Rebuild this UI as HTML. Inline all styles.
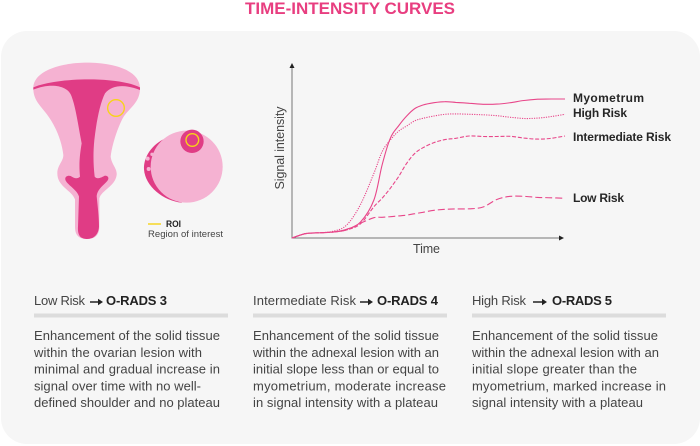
<!DOCTYPE html>
<html lang="en">
<head>
<meta charset="utf-8">
<title>Time-Intensity Curves</title>
<style>
html,body{margin:0;padding:0;background:#fff;width:700px;height:446px;overflow:hidden}
svg{display:block}
text{font-family:"Liberation Sans",sans-serif}
.body{font-size:13px;fill:#444}
.head{font-size:13px;fill:#444}
.strong{font-size:13px;font-weight:bold;fill:#222}
.lab{font-size:12px;font-weight:bold;fill:#262626}
.axis-t{font-size:12.5px;fill:#444}
</style>
</head>
<body>
<svg id="chart" width="700" height="446" viewBox="0 0 700 446" xmlns="http://www.w3.org/2000/svg">
<text x="245" y="14" textLength="210" lengthAdjust="spacingAndGlyphs" font-size="17" font-weight="bold" fill="#e83e80">TIME-INTENSITY CURVES</text>
<rect x="1" y="31" width="699" height="413" rx="26" fill="#f6f6f6"/>

<g transform="translate(0,40) scale(.33333)">
<path fill="#f5b2d2" d="M100,145 C100,90 190,68 260,68 C340,68 420,90 420,145 C420,190 385,205 368,235 C350,270 335,320 332,350 C335,375 352,385 350,405 C345,440 305,450 298,475 L298,560 C298,590 280,597 262,597 C240,597 225,590 225,560 L225,478 C215,450 172,440 172,400 C172,375 190,365 190,345 C185,300 165,255 140,222 C120,195 100,180 100,145 Z"/>
<path fill="#e03c85" d="M100,149 L100,142 C170,112 350,108 420,142 L420,150 C385,136 340,130 315,160 C300,190 290,240 283,300 C279,340 280,375 284,410 C292,420 305,412 315,407 C328,408 328,418 318,427 C305,440 292,450 290,468 C293,500 297,530 297,560 C295,590 275,597 262,597 C245,597 232,590 234,560 L237,470 C232,450 205,437 197,422 C192,410 203,405 212,408 C222,415 232,418 240,410 C236,370 240,340 245,310 C235,260 228,205 215,170 C205,135 150,128 100,149 Z"/>
<circle cx="348" cy="204" r="25" fill="none" stroke="#f7d417" stroke-width="4"/>
</g>

<g transform="translate(0,40) scale(.33333)">
<path fill="#e03c85" d="M490,298 C448,320 430,358 432,388 C436,440 490,482 545,488 L600,400 Z"/>
<circle cx="560" cy="380" r="108" fill="#f5b2d2"/>
<circle cx="576" cy="304" r="35" fill="#e03c85"/>
<circle cx="577" cy="300" r="19" fill="none" stroke="#f7d417" stroke-width="4"/>
<circle cx="443" cy="356" r="6" fill="#f5b2d2"/>
<circle cx="456" cy="343" r="5" fill="#f5b2d2"/>
<circle cx="446" cy="387" r="6" fill="#f5b2d2"/>
</g>

<g>
<line x1="148" x2="161" y1="224" y2="224" stroke="#f7d417" stroke-width="1.4"/>
<text x="166" y="227" textLength="15" lengthAdjust="spacingAndGlyphs" font-size="9.5" font-weight="bold" fill="#222">ROI</text>
<text x="148" y="237" textLength="75" font-size="9.5" fill="#444">Region of interest</text>
</g>

<g id="plot">
<line x1="292" y1="238.5" x2="292" y2="67" stroke="#777" stroke-width="1"/>
<path d="M292,63 L289.5,68 L294.5,68 Z" fill="#222"/>
<line x1="292" y1="238" x2="560" y2="238" stroke="#777" stroke-width="1"/>
<path d="M564,238 L559,235.5 L559,240.5 Z" fill="#222"/>
<text transform="translate(284,148) rotate(-90)" text-anchor="middle" class="axis-t" textLength="83">Signal intensity</text>
<text x="413" y="253" class="axis-t" textLength="27">Time</text>
</g>

<text class="lab" x="573" y="102" textLength="71">Myometrum</text>
<text class="lab" x="573" y="117" textLength="54">High Risk</text>
<text class="lab" x="573" y="141" textLength="98">Intermediate Risk</text>
<text class="lab" x="573" y="202" textLength="51">Low Risk</text>

<g>
<text class="head" x="34" y="305" textLength="51">Low Risk</text>
<path d="M90,301.2 H98 V298.8 L103,302 L98,305.2 V302.8 H90 Z" fill="#222"/>
<text class="strong" x="106" y="305" textLength="61">O-RADS 3</text>
<rect x="34" y="313.5" width="194" height="4" fill="#dcdcdc"/>
<text class="body" x="34" y="340" textLength="186">Enhancement of the solid tissue</text>
<text class="body" x="34" y="357" textLength="168">within the ovarian lesion with</text>
<text class="body" x="34" y="373.5" textLength="186">minimal and gradual increase in</text>
<text class="body" x="34" y="390.5" textLength="167">signal over time with no well-</text>
<text class="body" x="34" y="407" textLength="186">defined shoulder and no plateau</text>
</g>

<g>
<text class="head" x="253" y="305" textLength="103">Intermediate Risk</text>
<path d="M360,301.2 H368 V298.8 L373,302 L368,305.2 V302.8 H360 Z" fill="#222"/>
<text class="strong" x="377" y="305" textLength="61">O-RADS 4</text>
<rect x="253" y="313.5" width="194" height="4" fill="#dcdcdc"/>
<text class="body" x="253" y="340" textLength="186">Enhancement of the solid tissue</text>
<text class="body" x="253" y="357" textLength="186">within the adnexal lesion with an</text>
<text class="body" x="253" y="373.5" textLength="186">initial slope less than or equal to</text>
<text class="body" x="253" y="390.5" textLength="193">myometrium, moderate increase</text>
<text class="body" x="253" y="407" textLength="185">in signal intensity with a plateau</text>
</g>

<g>
<text class="head" x="472" y="305" textLength="54">High Risk</text>
<path d="M533,301.2 H542 V298.8 L547,302 L542,305.2 V302.8 H533 Z" fill="#222"/>
<text class="strong" x="552" y="305" textLength="60">O-RADS 5</text>
<rect x="472" y="313.5" width="194" height="4" fill="#dcdcdc"/>
<text class="body" x="472" y="340" textLength="186">Enhancement of the solid tissue</text>
<text class="body" x="472" y="357" textLength="187">within the adnexal lesion with an</text>
<text class="body" x="472" y="373.5" textLength="165">initial slope greater than the</text>
<text class="body" x="472" y="390.5" textLength="194">myometrium, marked increase in</text>
<text class="body" x="472" y="407" textLength="171">signal intensity with a plateau</text>
</g>
</svg>
<script>
var time = [0,5,10,15,20,25,30,33,36,39,42,45,48,52,56,60,65,70,75,80,85,90,95,100];
var myometrum = [0,2.5,3,3.4,5,9,21.7,41.7,57,64,69.7,74,76,77.3,77.9,77.5,77,76.4,76.5,77.3,78.6,79.3,79.4,79.4];
var highRisk = [0,2.5,3,3.8,7.4,18.9,37,49.3,56,61,64,67,68.4,69.7,70.7,70.9,70.7,70.4,69.9,69,68.3,68.5,69.4,70.7];
var intermediateRisk = [0,2.5,3,3.4,4.6,8,17.9,22.7,28.4,35,42.7,48.4,51.6,54.5,56.2,57,58.3,58,58,58.1,57.1,56.5,57,58.3];
var lowRisk = [0,2.5,3,3.4,4.6,8.4,11.6,11.8,12.2,12.6,13.1,13.9,14.7,15.8,16.4,16.6,16.7,17.7,22,23.8,23.8,23.2,23,22.7];

function xScale(t){ return 292 + t * 2.73; }
function yScale(v){ return 238 - v * 1.75; }

function curvePath(values){
  var pts = values.map(function(v,i){ return [xScale(time[i]), yScale(v)]; });
  var d = 'M' + pts[0][0].toFixed(1) + ',' + pts[0][1].toFixed(1);
  for (var i = 0; i < pts.length - 1; i++) {
    var p0 = pts[Math.max(i-1,0)], p1 = pts[i], p2 = pts[i+1], p3 = pts[Math.min(i+2,pts.length-1)];
    var c1x = p1[0] + (p2[0]-p0[0])/6, c1y = p1[1] + (p2[1]-p0[1])/6;
    var c2x = p2[0] - (p3[0]-p1[0])/6, c2y = p2[1] - (p3[1]-p1[1])/6;
    d += 'C' + c1x.toFixed(1) + ',' + c1y.toFixed(1) + ' ' + c2x.toFixed(1) + ',' + c2y.toFixed(1) + ' ' + p2[0].toFixed(1) + ',' + p2[1].toFixed(1);
  }
  return d;
}

var plot = document.getElementById('plot');
function addCurve(values, dash, width){
  var el = document.createElementNS('http://www.w3.org/2000/svg','path');
  el.setAttribute('d', curvePath(values));
  el.setAttribute('fill','none');
  el.setAttribute('stroke','#e8478a');
  el.setAttribute('stroke-width', width);
  if (dash) el.setAttribute('stroke-dasharray', dash);
  plot.appendChild(el);
  return el;
}
var c1 = addCurve(myometrum, '', 1.1);


var c2 = addCurve(highRisk, '1.2 1.2', 1.1);


var c3 = addCurve(intermediateRisk, '4 1.8', 1.1);


var c4 = addCurve(lowRisk, '7 3', 1.1);


</script>
</body>
</html>
